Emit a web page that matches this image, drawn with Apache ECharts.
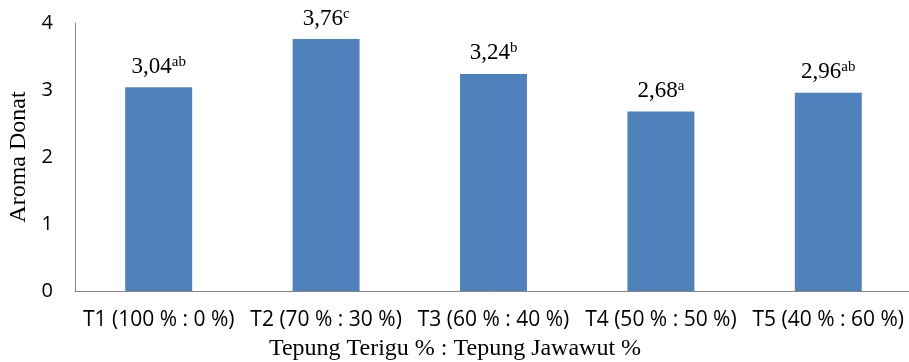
<!DOCTYPE html>
<html><head><meta charset="utf-8">
<script src="https://cdn.jsdelivr.net/npm/echarts@6/dist/echarts.min.js"></script>
<style>html,body{margin:0;padding:0;background:#fff}#c{width:909px;height:362px}</style>
</head><body><div id="c"></div>
<script>
const categories = ["T1 (100 % : 0 %)", "T2 (70 % : 30 %)", "T3 (60 % : 40 %)", "T4 (50 % : 50 %)", "T5 (40 % : 60 %)"];
const values = [3.04, 3.76, 3.24, 2.68, 2.96];
const letters = ["ab", "c", "b", "a", "ab"];
const yTicks = [0, 1, 2, 3, 4];

const chart = echarts.init(document.getElementById('c'));
chart.setOption({
  animation: false,
  grid: {left: 75, right: -3, top: 23, bottom: 71, containLabel: false, outerBoundsMode: 'none'},
  xAxis: {
    type: 'category', data: categories,
    axisLine: {lineStyle: {color: '#868686', width: 1}},
    axisTick: {show: false},
    axisLabel: {color: '#000', fontFamily: 'Open Sans', fontSize: 21, margin: 19, interval: 0},
    name: 'Tepung Terigu % : Tepung Jawawut %', nameLocation: 'middle', nameGap: 46,
    nameTextStyle: {color: '#000', fontFamily: 'Liberation Serif', fontSize: 24, padding: [0, 77, 0, 0]}
  },
  yAxis: {
    type: 'value', min: yTicks[0], max: yTicks[yTicks.length - 1], interval: 1,
    axisLine: {show: true, lineStyle: {color: '#868686', width: 1}},
    axisTick: {show: false},
    splitLine: {show: false},
    axisLabel: {color: '#000', fontFamily: 'Open Sans', fontSize: 20, margin: 22},
    name: 'Aroma Donat', nameLocation: 'middle', nameGap: 42,
    nameTextStyle: {color: '#000', fontFamily: 'Liberation Serif', fontSize: 24}
  },
  series: [{
    type: 'bar', data: values, barCategoryGap: '60%',
    itemStyle: {color: '#4F81BD'},
    label: {
      show: true, position: 'top', distance: 8,
      formatter: p => '{v|' + p.value.toFixed(2).replace('.', ',') + '}{s|' + letters[p.dataIndex] + '}',
      rich: {
        v: {fontFamily: 'Liberation Serif', fontSize: 23, color: '#000'},
        s: {fontFamily: 'Liberation Serif', fontSize: 15, color: '#000', verticalAlign: 'top', padding: [0, 0, 10, 0]}
      }
    }
  }]
});
</script></body></html>
